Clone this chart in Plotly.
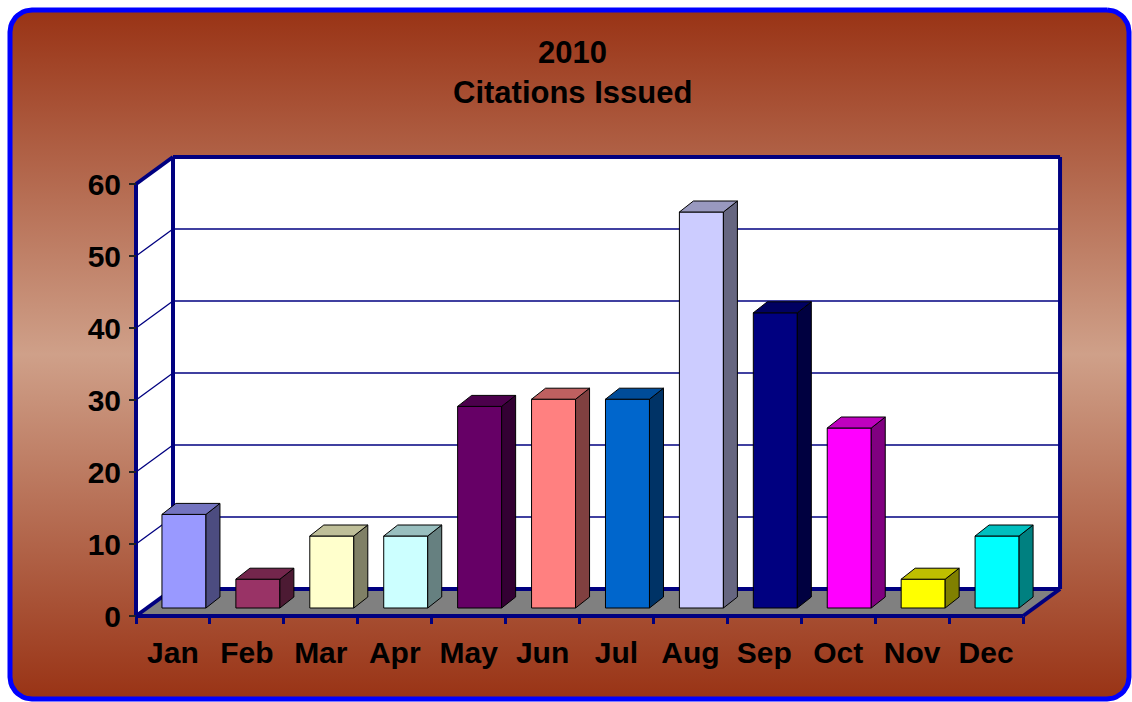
import numpy as np
import plotly.graph_objects as go

# ---------------- data ----------------
months = ["Jan", "Feb", "Mar", "Apr", "May", "Jun", "Jul", "Aug", "Sep", "Oct", "Nov", "Dec"]
citations = [13, 4, 10, 10, 28, 29, 29, 55, 41, 25, 4, 10]
bar_colors = ["#9999FF", "#993366", "#FFFFCC", "#CCFFFF", "#660066", "#FF8080",
              "#0066CC", "#CCCCFF", "#000080", "#FF00FF", "#FFFF00", "#00FFFF"]
y_ticks = [0, 10, 20, 30, 40, 50, 60]
title_lines = ["2010", "Citations Issued"]

# ---------------- geometry (pixels of the 1132x702 page) ----------------
W, H = 1132, 702
X0, Y0 = 136, 616          # front-left-bottom corner of the chart floor
PXC, PXV = 73.92, 7.2      # px per category, px per value unit
YMAX = 60
n = len(months)
xl, xr = -0.5, n - 0.5
DX, DY = 37 / PXC, 27 / PXV          # wall depth in data units
BAR_W = 44 / PXC
BAR_OX, BAR_OY = 11 / PXC, 8 / PXV   # bar front face offset into depth
BAR_DX, BAR_DY = 14 / PXC, 11 / PXV  # bar depth
PAD_L, PAD_R, PAD_T, PAD_B = 126, 1070, 147, 626   # padded drawing area (px)

NAVY = "#000080"
FONT = "Liberation Sans, Arial, sans-serif"


def shade(hexc, f):
    hexc = hexc.lstrip("#")
    r, g, b = (int(hexc[i:i + 2], 16) for i in (0, 2, 4))
    return "rgb(%d,%d,%d)" % (round(r * f), round(g * f), round(b * f))


def poly(xs, ys, fill, line_color="black", line_width=1):
    return go.Scatter(x=list(xs) + [xs[0]], y=list(ys) + [ys[0]], mode="lines",
                      fill="toself", fillcolor=fill,
                      line=dict(color=line_color, width=line_width),
                      xaxis="x2", yaxis="y2", hoverinfo="skip", showlegend=False)


def segs(pairs, color, width):
    xs, ys = [], []
    for (a, b), (c, d) in pairs:
        xs += [a, c, None]
        ys += [b, d, None]
    return go.Scatter(x=xs, y=ys, mode="lines", line=dict(color=color, width=width),
                      xaxis="x2", yaxis="y2", hoverinfo="skip", showlegend=False)


traces = []

# ---------------- background rounded rectangle with gradient ----------------
bx0, by0, bx1, by1, rad = 10, 10, 1129, 699, 22
pts = []
for (cx, cy, a0) in [(bx1 - rad, by0 + rad, -90), (bx1 - rad, by1 - rad, 0),
                     (bx0 + rad, by1 - rad, 90), (bx0 + rad, by0 + rad, 180)]:
    for a in np.linspace(a0, a0 + 90, 12):
        pts.append((cx + rad * np.cos(np.radians(a)), cy + rad * np.sin(np.radians(a))))
pts.append(pts[0])
traces.append(go.Scatter(
    x=[p[0] for p in pts], y=[p[1] for p in pts], mode="lines", fill="toself",
    fillgradient=dict(type="vertical",
                      colorscale=[[0, "#993315"], [0.5, "#CFA089"], [1, "#993315"]]),
    line=dict(color="#0000FF", width=5), xaxis="x", yaxis="y",
    hoverinfo="skip", showlegend=False))

# ---------------- walls & floor ----------------
traces.append(poly([xl, xl, xl + DX, xl + DX], [0, YMAX, YMAX + DY, DY], "white", "white", 0))
traces.append(poly([xl + DX, xr + DX, xr + DX, xl + DX], [DY, DY, YMAX + DY, YMAX + DY],
                   "white", "white", 0))
traces.append(poly([xl, xr, xr + DX, xl + DX], [0, 0, DY, DY], "#808080", "#808080", 0))

grid_pairs = []
for v in y_ticks[1:-1]:
    grid_pairs.append(((xl + DX, v + DY), (xr + DX, v + DY)))
    grid_pairs.append(((xl, v), (xl + DX, v + DY)))
traces.append(segs(grid_pairs, NAVY, 1.3))

edge_pairs = [
    ((xl, 0), (xl, YMAX)),
    ((xl, YMAX), (xl + DX, YMAX + DY)),
    ((xl + DX, YMAX + DY), (xr + DX, YMAX + DY)),
    ((xr + DX, YMAX + DY), (xr + DX, DY)),
    ((xl + DX, DY), (xl + DX, YMAX + DY)),
    ((xl + DX, DY), (xr + DX, DY)),
    ((xl, 0), (xl + DX, DY)),
    ((xl, 0), (xr, 0)),
    ((xr, 0), (xr + DX, DY)),
]
traces.append(segs(edge_pairs, NAVY, 4))

# ---------------- 3D bars ----------------
for i, (v, col) in enumerate(zip(citations, bar_colors)):
    cx = i + BAR_OX
    x1, x2 = cx - BAR_W / 2, cx + BAR_W / 2
    yb, yt = BAR_OY, BAR_OY + v
    traces.append(poly([x1, x2, x2, x1], [yb, yb, yt, yt], col))
    traces.append(poly([x2, x2 + BAR_DX, x2 + BAR_DX, x2],
                       [yb, yb + BAR_DY, yt + BAR_DY, yt], shade(col, 0.5)))
    traces.append(poly([x1, x2, x2 + BAR_DX, x1 + BAR_DX],
                       [yt, yt, yt + BAR_DY, yt + BAR_DY], shade(col, 0.75)))

# dummy traces that carry the label axes
traces.append(go.Scatter(x=[0], y=[0], xaxis="x3", yaxis="y3", mode="markers",
                         marker=dict(opacity=0), hoverinfo="skip", showlegend=False))
traces.append(go.Scatter(x=[0], y=[0], xaxis="x4", yaxis="y3", mode="markers",
                         marker=dict(opacity=0), hoverinfo="skip", showlegend=False))

fig = go.Figure(traces)

tickfont = dict(family=FONT, size=30, color="black", weight="bold")
x2_range = [xl - (X0 - PAD_L) / PXC, xl + (PAD_R - X0) / PXC]
y2_range = [-(PAD_B - Y0) / PXV, (Y0 - PAD_T) / PXV]

fig.update_layout(
    template="none",
    width=W, height=H, margin=dict(l=0, r=0, t=0, b=0, pad=0), autosize=False,
    paper_bgcolor="white", plot_bgcolor="rgba(0,0,0,0)",
    showlegend=False, hovermode=False,
    xaxis=dict(domain=[0, 1], range=[0, W], visible=False, fixedrange=True, automargin=False),
    yaxis=dict(domain=[0, 1], range=[H, 0], visible=False, fixedrange=True, automargin=False),
    xaxis2=dict(domain=[PAD_L / W, PAD_R / W], range=x2_range, visible=False, anchor="y2",
                automargin=False),
    yaxis2=dict(domain=[(H - PAD_B) / H, (H - PAD_T) / H], range=y2_range,
                visible=False, anchor="x2", automargin=False),
    xaxis3=dict(domain=[X0 / W, (X0 + n * PXC) / W], range=[xl, xr], anchor="free",
                position=(H - Y0) / H, tickmode="array", tickvals=list(range(n)),
                ticktext=months, ticks="", showline=False, showgrid=False,
                zeroline=False, tickfont=tickfont, ticklabelstandoff=16, automargin=False),
    xaxis4=dict(overlaying="x3", range=[xl, xr], anchor="free", position=(H - Y0) / H,
                tickmode="array", tickvals=[xl + k for k in range(n + 1)],
                ticks="outside", ticklen=7, tickwidth=3, tickcolor=NAVY,
                showticklabels=False, showline=False, showgrid=False, zeroline=False,
                automargin=False),
    yaxis3=dict(domain=[(H - Y0) / H, (H - (Y0 - YMAX * PXV)) / H], range=[0, YMAX],
                anchor="free", position=X0 / W, tickmode="array", tickvals=y_ticks,
                ticks="outside", ticklen=7, tickwidth=1.5, tickcolor="#222222",
                showline=False, showgrid=False, zeroline=False, tickfont=tickfont,
                ticklabelstandoff=2, automargin=False),
    annotations=[
        dict(text=title_lines[0], x=572 / W, y=1 - 52 / H, xref="paper", yref="paper",
             showarrow=False, xanchor="center", yanchor="middle",
             font=dict(family=FONT, size=31, color="black", weight="bold")),
        dict(text=title_lines[1], x=572 / W, y=1 - 92 / H, xref="paper", yref="paper",
             showarrow=False, xanchor="center", yanchor="middle",
             font=dict(family=FONT, size=31, color="black", weight="bold")),
    ],
)

fig.write_html("out.html", config={"displayModeBar": False},
               post_script="document.body.style.margin='0';")
